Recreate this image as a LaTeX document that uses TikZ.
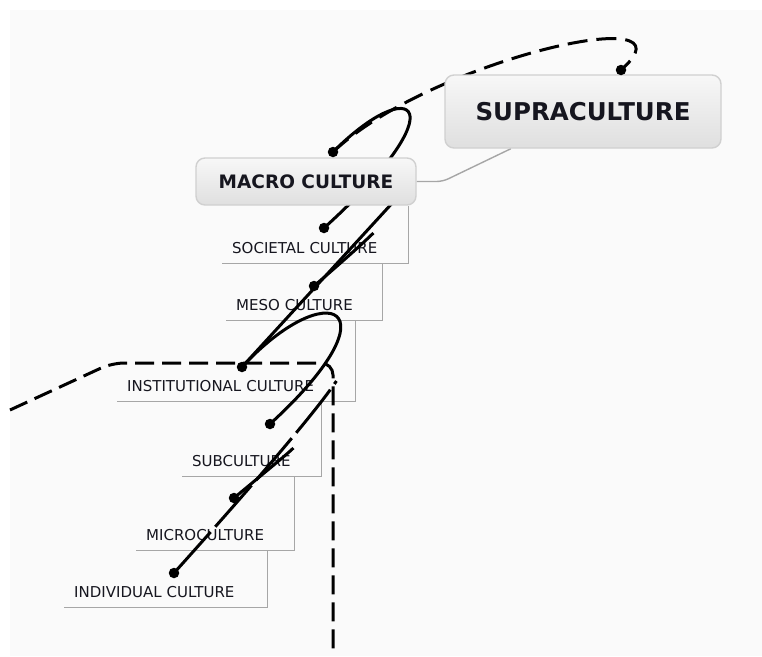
\documentclass[tikz,border=0pt]{standalone}
\usepackage{fontspec}
\setmainfont{DejaVu Sans}
\usetikzlibrary{calc}

\definecolor{ink}{HTML}{16161F}
\definecolor{paper}{HTML}{FAFAFA}
\definecolor{rim}{HTML}{D0D0D0}
\definecolor{twig}{HTML}{A6A6A6}

\pgfdeclarelayer{bg}
\pgfdeclarelayer{fg}
\pgfsetlayers{bg,main,fg}

\begin{document}
\begin{tikzpicture}[x=1pt, y=-1pt,
    topic/.style = {draw=rim, line width=1.4pt, rounded corners=9pt, top color=gray!6, bottom color=gray!25, text=ink},
    sub/.style = {anchor=south west, inner xsep=10pt, inner ysep=9pt, text depth=0pt, align=left, text=ink, font=\fontsize{15}{17}\selectfont},
    twig/.style = {draw=twig, line width=0.9pt},
    rel/.style = {line width=3pt},
    knob/.style = {circle, fill=black, inner sep=0pt, minimum size=10.5pt}]

    \begin{pgfonlayer}{bg}
        \fill[white] (0,0) rectangle (762,656);
        \fill[paper] (10,10) rectangle (762,656);
    \end{pgfonlayer}
    \useasboundingbox (0,0) rectangle (762,656);

    % main topics and relationship ends
    \begin{pgfonlayer}{fg}
        \node[topic, minimum width=276pt, minimum height=73pt, font=\fontsize{24.5}{28}\selectfont\bfseries] (Supra) at (583,111.5) {SUPRACULTURE};
        \node[topic, minimum width=220pt, minimum height=47pt, font=\fontsize{18.5}{22}\selectfont\bfseries] (Macro) at (306,181.5) {MACRO CULTURE};

        \node[knob] (dSupra) at (621,70) {};
        \node[knob] (dMacro) at (333,152) {};
        \node[knob] (dSoc) at (324,228) {};
        \node[knob] (dMeso) at (314,286) {};
        \node[knob] (dInst) at (242,367) {};
        \node[knob] (dSub) at (270,424) {};
        \node[knob] (dMicro) at (234,498) {};
        \node[knob] (dIndiv) at (174,573) {};
    \end{pgfonlayer}

    % staircase of subtopics
    \node[sub, text width=166pt] (Soc) at (222,263) {SOCIETAL CULTURE};
    \node[sub, text width=136pt] (Meso) at (226,320) {MESO CULTURE};
    \node[sub, text width=218pt] (Inst) at (117,401) {INSTITUTIONAL CULTURE};
    \node[sub, text width=119pt] (Sub) at (182,476) {SUBCULTURE};
    \node[sub, text width=138pt] (Micro) at (136,550) {MICROCULTURE};
    \node[sub, text width=183pt] (Indiv) at (64,607) {INDIVIDUAL CULTURE};

    \draw[twig] (Soc.south west) -- (Soc.south east) -- (Soc.south east |- Macro.south);
    \draw[twig] (Meso.south west) -- (Meso.south east) -- (Meso.south east |- Soc.south);
    \draw[twig] (Inst.south west) -- (Inst.south east) -- (Inst.south east |- Meso.south);
    \draw[twig] (Sub.south west) -- (Sub.south east) -- (Sub.south east |- Inst.south);
    \draw[twig] (Micro.south west) -- (Micro.south east) -- (Micro.south east |- Sub.south);
    \draw[twig] (Indiv.south west) -- (Indiv.south east) -- (Indiv.south east |- Micro.south);

    \draw[twig, line width=1.4pt, rounded corners=6pt] (Macro.east) -- ++(26,0) -- ($(Supra.south west)!0.24!(Supra.south east)$);

    \coordinate (MacroIn) at ($(Macro.south)+(93,-10)$);
    \coordinate (SocTip) at ($(Soc.south east)+(-35,-30)$);
    \coordinate (InstTip) at ($(Inst.south east)+(-19,-20)$);
    \coordinate (SubTip) at ($(Sub.south east)+(-28,-28)$);
    \coordinate (WestEnd) at (10,410);
    \coordinate (SouthEnd) at (333,656);

    % relationships
    \draw[rel, dash pattern=on 20pt off 9pt] (dMacro.center) .. controls +(97,-92) and +(82,-72) .. (dSupra.center);
    \draw[rel] (dSoc.center) .. controls +(136,-123) and +(80,-80) .. (dMacro.center);
    \draw[rel] (dInst.center) -- (MacroIn);
    \draw[rel] (dMeso.center) .. controls +(35,-30) and +(-6,6) .. (SocTip);
    \draw[rel] (dSub.center) .. controls +(130,-119) and +(85,-92) .. (dInst.center);
    \draw[rel, dash pattern=on 55pt off 7pt] (dIndiv.center) .. controls +(80,-89) and +(-20,30) .. (InstTip);
    \draw[rel] (dMicro.center) .. controls +(30,-25) and +(-6,6) .. (SubTip);
    \draw[rel, dash pattern=on 19pt off 8pt, rounded corners=12pt] (WestEnd) -- (112,363) -- (333,363) -- (SouthEnd);
\end{tikzpicture}
\end{document}
